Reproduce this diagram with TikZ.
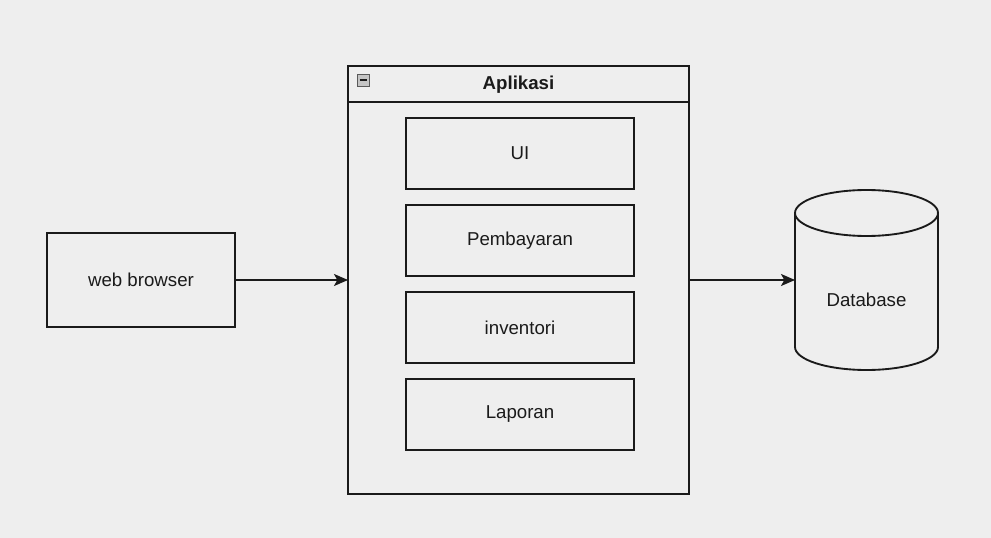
\documentclass[tikz,border=0pt]{standalone}
\usepackage{fontspec}
\setmainfont{Liberation Sans}
\usetikzlibrary{arrows.meta}
\usetikzlibrary{positioning}

\definecolor{fundo}{HTML}{EEEEEE}
\definecolor{traco}{HTML}{1A1A1A}
\definecolor{icone}{HTML}{C4C4C4}

\tikzset{
  caixa/.style={draw=traco, line width=1.4pt, outer sep=0pt, minimum width=171pt, minimum height=53.25pt,
    font=\fontsize{14}{16}\selectfont, text=traco},
  seta/.style={draw=traco, line width=1.4pt, -{Stealth[length=10.5pt,width=9pt,inset=2.5pt]}}
}

\begin{document}
\begin{tikzpicture}[x=0.75pt,y=-0.75pt]

% fundo
\path[fill=fundo] (0,0) rectangle (991,538);

% navegador
\node[caixa, minimum width=141pt, minimum height=70.5pt] (wb) at (141,280) {web browser};

% aplicacao
\node[draw=traco, line width=1.4pt, outer sep=0pt, minimum width=255.75pt, minimum height=321pt] (app) at (518.5,280) {};
\draw[traco, line width=1.4pt] (348,102) -- (689,102);
\node[font=\bfseries\fontsize{14}{16}\selectfont, text=traco] (titulo) at (518.5,85) {Aplikasi};
\node[draw=gray!70!black, fill=icone, line width=0.7pt, minimum size=9pt, inner sep=0pt] (menos) at (363,80) {};
\draw[traco, line width=1.2pt] (359.5,80) -- (366.5,80);

% modulos
\node[caixa] (ui) at (520,153.5) {UI};
\node[caixa, below=12pt of ui] (bayar) {Pembayaran};
\node[caixa, below=12pt of bayar] (inv) {inventori};
\node[caixa, below=12pt of inv] (lap) {Laporan};

% banco de dados
\node[minimum width=107.25pt, minimum height=135pt, inner sep=0pt, outer sep=0pt] (db) at (866.5,280) {};
\draw[traco, line width=1.4pt] (866.5,213) ellipse [x radius=53.625pt, y radius=17.25pt];
\draw[traco, line width=1.4pt] (795,213) -- (795,347) arc[start angle=180, end angle=360, x radius=53.625pt, y radius=17.25pt] -- (938,213);
\node[font=\fontsize{14}{16}\selectfont, text=traco] (dbtexto) at (866.5,300) {Database};

% setas
\draw[seta] (wb.east) -- (app.west);
\draw[seta] (app.east) -- (db.west);

\end{tikzpicture}
\end{document}
